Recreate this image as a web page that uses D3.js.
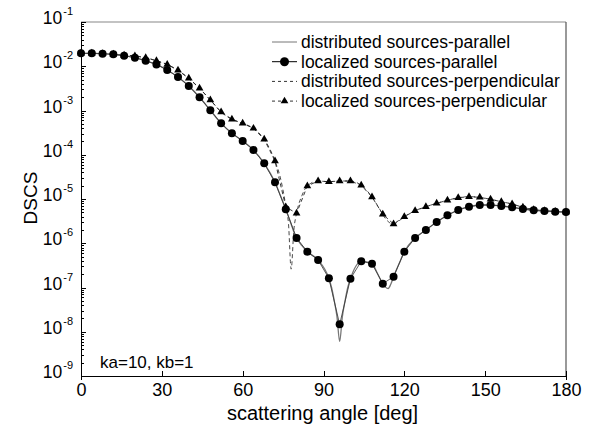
<!DOCTYPE html>
<html lang="en">
<head>
    <meta charset="UTF-8">
    <style>
        body { margin: 0; background: #fff; }
        svg text { font-family: "Liberation Sans", Arial, sans-serif; fill: #000; }
        .axis path, .axis line { stroke: #000; shape-rendering: crispEdges; }
    </style>
    <script src="https://d3js.org/d3.v7.min.js"></script>
    <title>DSCS vs scattering angle</title>
</head>
<body>
    <svg width="591" height="428"></svg>
    <script>

        // localized sources: one marker every 4 degrees
        var locAngles = [0, 4, 8, 12, 16, 20, 24, 28, 32, 36, 40, 44, 48, 52, 56, 60, 64, 68, 72, 76,
                         80, 84, 88, 92, 96, 100, 104, 108, 112, 116, 120, 124, 128, 132, 136, 140,
                         144, 148, 152, 156, 160, 164, 168, 172, 176, 180];
        var locParallel = [1.96e-2, 1.96e-2, 1.92e-2, 1.86e-2, 1.73e-2, 1.56e-2, 1.33e-2, 1.10e-2, 8.22e-3,
                           5.71e-3, 3.58e-3, 1.99e-3, 1.01e-3, 5.13e-4, 3.05e-4, 2.05e-4, 1.28e-4, 6.41e-5,
                           2.38e-5, 5.85e-6, 1.32e-6, 6.44e-7, 4.18e-7, 1.61e-7, 1.47e-8, 1.58e-7, 3.91e-7,
                           3.45e-7, 1.22e-7, 1.75e-7, 6.44e-7, 1.32e-6, 1.99e-6, 3.02e-6, 4.29e-6, 5.64e-6,
                           6.70e-6, 7.31e-6, 7.31e-6, 6.95e-6, 6.49e-6, 5.94e-6, 5.56e-6, 5.36e-6, 5.16e-6, 5.08e-6];
        var locPerp = [1.96e-2, 1.96e-2, 1.92e-2, 1.86e-2, 1.78e-2, 1.71e-2, 1.56e-2, 1.33e-2, 1.10e-2,
                       8.09e-3, 5.33e-3, 3.17e-3, 1.73e-3, 9.25e-4, 6.32e-4, 5.13e-4, 3.95e-4, 2.23e-4,
                       7.23e-5, 6.6e-6, 4.75e-6, 1.97e-5, 2.55e-5, 2.46e-5, 2.55e-5, 2.55e-5, 2.04e-5,
                       1.11e-5, 4.51e-6, 2.72e-6, 3.98e-6, 5.45e-6, 6.70e-6, 8.00e-6, 9.35e-6, 1.07e-5,
                       1.13e-5, 1.09e-5, 9.84e-6, 8.69e-6, 7.71e-6, 6.5e-6, 5.75e-6, 5.45e-6, 5.2e-6, 5.08e-6];

        // distributed sources: denser near the nulls
        var distAngles = [0, 4, 8, 12, 16, 20, 24, 28, 32, 36, 40, 44, 48, 52, 56, 60, 64, 68, 72,
                          74, 76, 77, 78, 79, 80, 82, 84, 88,
                          92, 93, 94, 95, 96, 97, 98, 99, 100,
                          104, 108, 110, 112, 113, 114, 115, 116, 118,
                          120, 124, 128, 132, 136, 140, 144, 148, 152, 156, 160, 164, 168, 172, 176, 180];
        var distParallel = [1.96e-2, 1.96e-2, 1.92e-2, 1.86e-2, 1.73e-2, 1.56e-2, 1.33e-2, 1.10e-2, 8.22e-3,
                            5.71e-3, 3.58e-3, 1.99e-3, 1.01e-3, 5.13e-4, 3.05e-4, 2.05e-4, 1.28e-4, 6.41e-5, 2.38e-5,
                            1.2e-5, 5.85e-6, 4.0e-6, 2.7e-6, 1.8e-6, 1.32e-6, 8.8e-7, 6.44e-7, 4.18e-7,
                            1.61e-7, 1.0e-7, 5.0e-8, 2.2e-8, 6.0e-9, 2.2e-8, 5.0e-8, 1.0e-7, 1.58e-7,
                            3.91e-7, 3.45e-7, 2.1e-7, 1.22e-7, 1.02e-7, 9.5e-8, 1.2e-7, 1.75e-7, 3.4e-7,
                            6.44e-7, 1.32e-6, 1.99e-6, 3.02e-6, 4.29e-6, 5.64e-6, 6.70e-6, 7.31e-6, 7.31e-6,
                            6.95e-6, 6.49e-6, 5.94e-6, 5.56e-6, 5.36e-6, 5.16e-6, 5.08e-6];
        var distPerp = [1.96e-2, 1.96e-2, 1.92e-2, 1.86e-2, 1.78e-2, 1.71e-2, 1.56e-2, 1.33e-2, 1.10e-2,
                        8.09e-3, 5.33e-3, 3.17e-3, 1.73e-3, 9.25e-4, 6.32e-4, 5.13e-4, 3.95e-4, 2.23e-4, 7.23e-5,
                        3.0e-5, 7.0e-6, 2.8e-6, 2.6e-7, 2.0e-6, 4.75e-6, 1.2e-5, 1.97e-5, 2.55e-5,
                        2.46e-5, 2.48e-5, 2.5e-5, 2.52e-5, 2.55e-5, 2.55e-5, 2.55e-5, 2.55e-5, 2.55e-5,
                        2.04e-5, 1.11e-5, 7.2e-6, 4.51e-6, 3.6e-6, 3.1e-6, 2.8e-6, 2.72e-6, 3.2e-6,
                        3.98e-6, 5.45e-6, 6.70e-6, 8.00e-6, 9.35e-6, 1.07e-5, 1.13e-5, 1.09e-5, 9.84e-6,
                        8.69e-6, 7.71e-6, 6.5e-6, 5.75e-6, 5.45e-6, 5.2e-6, 5.08e-6];

        var xTicks = [0, 30, 60, 90, 120, 150, 180];
        var yExponents = [-1, -2, -3, -4, -5, -6, -7, -8, -9];
        var legendLabels = ["distributed sources-parallel", "localized sources-parallel",
                            "distributed sources-perpendicular", "localized sources-perpendicular"];

        var svg = d3.select("svg");
        // plot box (window.top is read-only, so not "top")
        var pLeft = 81, pRight = 566, pTop = 22, pBottom = 376;

        var x = d3.scaleLinear().domain([0, 180]).range([pLeft, pRight]);
        var y = d3.scaleLog().domain([1e-9, 1e-1]).range([pBottom, pTop]);

        // frame
        svg.append("line").attr("x1", pLeft).attr("x2", pRight).attr("y1", pTop).attr("y2", pTop)
           .attr("stroke", "#888").attr("stroke-width", 1.2);
        svg.append("line").attr("x1", pRight).attr("x2", pRight).attr("y1", pTop).attr("y2", pBottom)
           .attr("stroke", "#555").attr("stroke-width", 1.2);

        // x axis
        var xAxis = svg.append("g").attr("class", "axis")
            .attr("transform", "translate(0," + pBottom + ")")
            .call(d3.axisBottom(x).tickValues(xTicks).tickSizeInner(-5).tickSizeOuter(4).tickPadding(5));
        xAxis.selectAll("text").attr("font-size", 18).attr("dy", "0.85em");

        // y axis: minor ticks then majors
        var minors = [];
        yExponents.forEach(function(e) {
            if (e === -1) return;
            for (var m = 2; m <= 9; m++) minors.push(m * Math.pow(10, e));
        });
        svg.append("g").attr("class", "axis")
            .attr("transform", "translate(" + pLeft + ",0)")
            .call(d3.axisLeft(y).tickValues(minors).tickSize(-3).tickFormat(""))
            .select(".domain").remove();

        svg.append("g").attr("class", "axis")
            .attr("transform", "translate(" + pLeft + ",0)")
            .call(d3.axisLeft(y).tickValues(yExponents.map(function(e) { return Math.pow(10, e); }))
                  .tickSizeInner(-5).tickSizeOuter(0).tickFormat(""));

        yExponents.forEach(function(e) {
            var t = svg.append("text")
                .attr("x", 73).attr("y", y(Math.pow(10, e)) + 2)
                .attr("text-anchor", "end").attr("font-size", 17.5);
            t.append("tspan").text("10");
            t.append("tspan").attr("font-size", 11).attr("dy", -9).attr("dx", 1).text(e);
        });

        // axis titles
        svg.append("text").attr("x", (pLeft + pRight) / 2 - 1).attr("y", 420)
           .attr("text-anchor", "middle").attr("font-size", 20).text("scattering angle [deg]");
        svg.append("text").attr("transform", "translate(37,198) rotate(-90)")
           .attr("text-anchor", "middle").attr("font-size", 19).text("DSCS");

        svg.append("text").attr("x", 100).attr("y", 368).attr("font-size", 17).text("ka=10, kb=1");

        // curves
        function series(xs, ys) {
            return xs.map(function(a, i) { return [a, ys[i]]; });
        }
        var smooth = d3.line().x(function(d) { return x(d[0]); }).y(function(d) { return y(d[1]); })
                       .curve(d3.curveMonotoneX);
        var straight = d3.line().x(function(d) { return x(d[0]); }).y(function(d) { return y(d[1]); });

        var g = svg.append("g").attr("fill", "none");
        g.append("path").attr("d", smooth(series(distAngles, distPerp)))
         .attr("stroke", "#333").attr("stroke-width", 0.9).attr("stroke-dasharray", "4,3");
        g.append("path").attr("d", straight(series(locAngles, locPerp)))
         .attr("stroke", "#222").attr("stroke-width", 0.9).attr("stroke-dasharray", "4,3");
        g.append("path").attr("d", smooth(series(distAngles, distParallel)))
         .attr("stroke", "#777").attr("stroke-width", 1.3);
        g.append("path").attr("d", straight(series(locAngles, locParallel)))
         .attr("stroke", "#333").attr("stroke-width", 0.8);

        var tri = d3.symbol().type(d3.symbolTriangle).size(26);

        svg.append("g").selectAll("path")
           .data(series(locAngles, locPerp))
           .enter().append("path")
           .attr("d", tri)
           .attr("transform", function(d) { return "translate(" + x(d[0]) + "," + y(d[1]) + ")"; })
           .attr("fill", "#000");

        svg.append("g").selectAll("circle")
           .data(series(locAngles, locParallel))
           .enter().append("circle")
           .attr("cx", function(d) { return x(d[0]); })
           .attr("cy", function(d) { return y(d[1]); })
           .attr("r", 4)
           .attr("fill", "#000");

        // legend
        var lg = svg.append("g");
        legendLabels.forEach(function(label, i) {
            var ly = 42 + i * 19.7;
            var row = lg.append("g");
            var ln = row.append("line").attr("x1", 272).attr("x2", 297).attr("y1", ly).attr("y2", ly)
                        .attr("stroke-width", 1);
            if (i === 0) ln.attr("stroke", "#777");
            if (i === 1) ln.attr("stroke", "#000");
            if (i === 2) ln.attr("stroke", "#333").attr("stroke-dasharray", "3,3");
            if (i === 3) ln.attr("stroke", "#333").attr("stroke-dasharray", "3,3");
            if (i === 1) row.append("circle").attr("cx", 284.5).attr("cy", ly).attr("r", 4.5);
            if (i === 3) row.append("path").attr("d", tri)
                            .attr("transform", "translate(284.5," + ly + ")");
            row.append("text").attr("x", 301).attr("y", ly + 6).attr("font-size", 17.5).text(label);
        });

    </script>
</body>
</html>
